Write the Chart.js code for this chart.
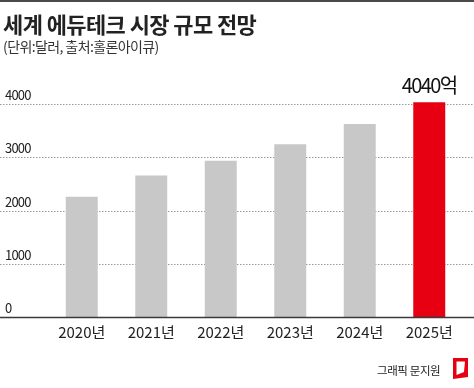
<!DOCTYPE html>
<html><head><meta charset="utf-8">
<script src="https://cdn.jsdelivr.net/npm/chart.js@4/dist/chart.umd.min.js"></script>
<style>
html,body{margin:0;padding:0;background:#fff;}
#wrap{position:relative;width:474px;height:388px;overflow:hidden;font-family:"Noto Sans CJK KR","Noto Sans",sans-serif;}
#topbar{position:absolute;left:0;top:0;width:474px;height:2px;background:#4a4a4a;}
#title{position:absolute;left:3px;top:8px;font-size:22px;font-weight:700;color:#222;letter-spacing:-0.6px;line-height:30px;white-space:nowrap;}
#sub{position:absolute;left:3px;top:36px;font-size:14px;color:#333;letter-spacing:-0.6px;line-height:20px;white-space:nowrap;}
#credit{position:absolute;left:377px;top:362px;font-size:11.5px;color:#222;letter-spacing:-0.4px;line-height:16px;white-space:nowrap;}
canvas{position:absolute;left:0;top:0;}
</style></head>
<body><div id="wrap">
<canvas id="c" width="474" height="388"></canvas>
<div id="topbar"></div>
<div id="title">세계 에듀테크 시장 규모 전망</div>
<div id="sub">(단위:달러, 출처:홀론아이큐)</div>
<div id="credit">그래픽 문지원</div>
<svg style="position:absolute;left:452px;top:357px" width="18" height="23" viewBox="0 0 18 23">
<path d="M1 1 L16 1 L16 20 L1 22 Z M4.5 4.5 L13 4.5 L12 15 L4.5 18 Z" fill="#e60012" fill-rule="evenodd"/>
</svg>
</div>
<script>
const categories = ["2020년","2021년","2022년","2023년","2024년","2025년"];
const values = [2260, 2660, 2940, 3250, 3630, 4040];
const yTicks = [0, 1000, 2000, 3000, 4000];
const highlightLabel = "4040억";

const barColors = values.map((v,i)=> i===values.length-1 ? "#e60012" : "#c8c8c8");

const decor = {
  id:'decor',
  beforeDatasetsDraw(chart){
    const ctx = chart.ctx, y = chart.scales.y, W = chart.width;
    ctx.save();
    ctx.strokeStyle = "#9a9a9a";
    ctx.lineWidth = 1;
    ctx.setLineDash([1.5,1.5]);
    ctx.font = "13px 'Noto Sans CJK KR', 'Noto Sans', sans-serif";
    ctx.fillStyle = "#222";
    ctx.textAlign = "left";
    ctx.textBaseline = "alphabetic";
    try{ ctx.letterSpacing = "-0.8px"; }catch(e){}
    yTicks.forEach(v=>{
      const py = Math.round(y.getPixelForValue(v)) + 0.5;
      if (v !== 0){
        ctx.beginPath(); ctx.moveTo(0,py); ctx.lineTo(W,py); ctx.stroke();
      }
      ctx.fillText(String(v), 5, py - 5);
    });
    ctx.restore();
  },
  afterDatasetsDraw(chart){
    const ctx = chart.ctx, y = chart.scales.y, W = chart.width;
    ctx.save();
    const py = y.getPixelForValue(0);
    ctx.strokeStyle = "#3a3a3a";
    ctx.lineWidth = 1.6;
    ctx.beginPath(); ctx.moveTo(0,py+0.5); ctx.lineTo(W,py+0.5); ctx.stroke();
    const meta = chart.getDatasetMeta(0);
    const bar = meta.data[values.length-1];
    ctx.font = "20px 'Noto Sans CJK KR', 'Noto Sans', sans-serif";
    try{ ctx.letterSpacing = "-1.6px"; }catch(e){}
    ctx.fillStyle = "#111";
    ctx.textAlign = "center";
    ctx.textBaseline = "alphabetic";
    ctx.fillText(highlightLabel, bar.x, bar.y - 9);
    ctx.restore();
  }
};

new Chart(document.getElementById('c'), {
  type:'bar',
  data:{ labels: categories, datasets:[{ data: values, backgroundColor: barColors, borderWidth:0,
    categoryPercentage:1.0, barPercentage:0.46 }]},
  options:{
    responsive:false, animation:false, devicePixelRatio:1,
    layout:{ padding:{ left:47, right:10, top:83, bottom:41 } },
    plugins:{ legend:{display:false}, tooltip:{enabled:false} },
    scales:{
      y:{ display:false, min:0, max:4400 },
      x:{ grid:{display:false, drawTicks:false}, border:{display:false},
          ticks:{ padding:6, color:"#222", font:{ size:15, family:"'Noto Sans CJK KR', 'Noto Sans', sans-serif" } } }
    }
  },
  plugins:[decor]
});
</script>
</body></html>
